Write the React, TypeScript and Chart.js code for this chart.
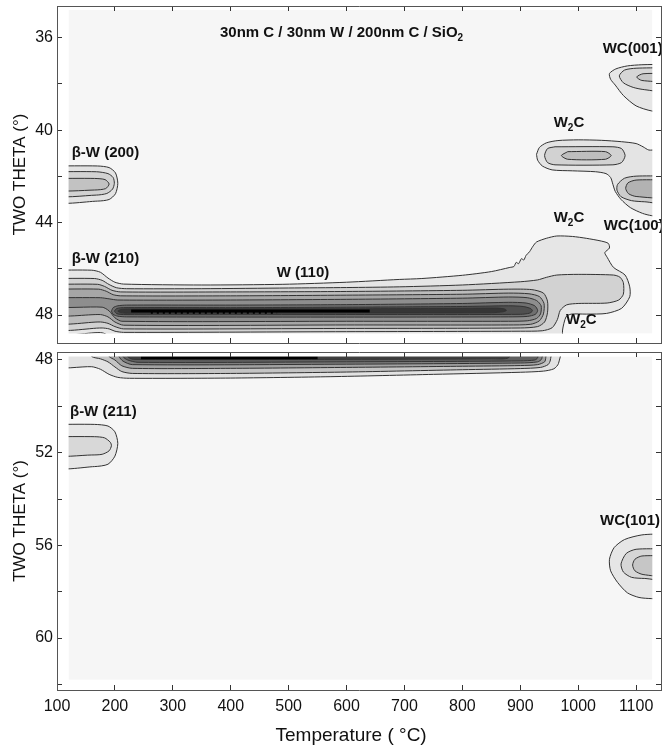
import React, { useEffect, useRef } from "react";
import { Chart, registerables } from "chart.js";

Chart.register(...registerables);

type Pt = [number, number];

// ---------- axes ----------
const X_MIN = 100;
const X_MAX = 1143;
const X_TICK_STEP = 100;
const TOP_Y_MIN = 34.628;
const TOP_Y_MAX = 49.21;
const BOT_Y_MIN = 47.655;
const BOT_Y_MAX = 62.244;
const Y_TICK_STEP = 2;
const Y_LABEL_EVERY = 4;
const X_TITLE = "Temperature ( °C)   ";
const Y_TITLE = "TWO THETA (°)";

// measured (temperature, two-theta) extent of the scans
const TOP_EXTENT = { t0: 120, t1: 1128, a0: 34.8, a1: 48.8 };
const BOT_EXTENT = { t0: 120, t1: 1128, a0: 47.85, a1: 61.8 };

// ---------- top panel contours (temperature, two-theta) ----------
const W110_L1: Pt[] = [[90,46.06],[160,46.06],[175,46.15],[188,46.4],[200,46.58],[215,46.66],[350,46.7],[490,46.67],[600,46.58],[691,46.46],[730,46.42],[800,46.28],[850,46.12],[882,45.94],[889,45.9],[893,45.72],[897,45.78],[902,45.56],[906,45.62],[910,45.42],[916,45.26],[922,45.02],[928,44.84],[945,44.68],[963,44.58],[990,44.6],[1014,44.68],[1040,44.8],[1052,44.9],[1054,45.1],[1046,45.3],[1050,45.5],[1061,45.94],[1081,46.27],[1089,46.78],[1089,47.21],[1075,47.71],[1049,47.93],[1014,47.96],[988,47.96],[979,48.08],[973,48.65],[970,49.6],[200,49.6],[193,49.2],[186,48.85],[175,48.76],[90,48.74],[90,46.06]];
const W110_L2: Pt[] = [[90,46.42],[165,46.42],[178,46.5],[190,46.68],[203,46.82],[220,46.86],[350,46.86],[500,46.83],[600,46.81],[691,46.78],[800,46.7],[900,46.56],[930,46.48],[945,46.37],[963,46.27],[1000,46.24],[1061,46.27],[1072,46.36],[1078,46.6],[1078,47.1],[1070,47.35],[1050,47.48],[1000,47.5],[980,47.56],[969,47.8],[964,48.2],[955,48.55],[938,48.68],[900,48.7],[600,48.72],[215,48.75],[200,48.7],[190,48.6],[178,48.56],[90,48.55],[90,46.42]];
const W110_L3: Pt[] = [[90,46.67],[170,46.67],[182,46.76],[195,46.93],[210,47.0],[400,47.0],[600,46.98],[800,46.93],[880,46.88],[920,46.9],[940,47.05],[947,47.4],[947,47.9],[942,48.3],[930,48.5],[900,48.56],[600,48.58],[215,48.6],[200,48.5],[188,48.36],[175,48.3],[90,48.3],[90,46.67]];
const W110_L4: Pt[] = [[90,46.88],[172,46.88],[185,46.97],[197,47.12],[210,47.17],[400,47.17],[600,47.14],[800,47.1],[880,47.05],[915,47.08],[933,47.2],[941,47.5],[940,47.95],[933,48.25],[918,48.4],[880,48.43],[600,48.43],[215,48.44],[200,48.3],[188,48.08],[175,47.98],[90,47.97],[90,46.88]];
const W110_L5: Pt[] = [[90,47.25],[175,47.25],[190,47.3],[205,47.35],[400,47.35],[600,47.32],[800,47.27],[880,47.22],[912,47.25],[928,47.37],[936,47.6],[935,47.95],[928,48.15],[912,48.25],[880,48.27],[600,48.27],[212,48.27],[200,48.12],[190,47.82],[178,47.66],[90,47.64],[90,47.25]];
const W110_L6: Pt[] = [[194,47.83],[197,47.68],[205,47.6],[220,47.57],[400,47.57],[600,47.55],[800,47.5],[880,47.45],[910,47.48],[925,47.6],[930,47.8],[926,47.97],[912,48.06],[880,48.08],[600,48.09],[220,48.08],[205,48.05],[197,47.97],[194,47.83]];
const W110_L7: Pt[] = [[199,47.83],[203,47.72],[215,47.68],[400,47.68],[600,47.66],[800,47.63],[880,47.6],[905,47.63],[918,47.72],[921,47.82],[916,47.92],[900,47.97],[600,47.98],[215,47.98],[203,47.94],[199,47.83]];
const W110_L8: Pt[] = [[205,47.83],[210,47.76],[222,47.74],[600,47.73],[800,47.71],[860,47.7],[873,47.74],[876,47.8],[870,47.86],[850,47.9],[600,47.91],[222,47.92],[210,47.9],[205,47.83]];
const TOP_RIDGE: Pt[] = [[228,47.83],[640,47.83]];
const TOP_RIDGE_DOTS: Pt[] = [[262,47.9],[480,47.9]];

const BW200_L1: Pt[] = [[90,41.55],[170,41.55],[190,41.62],[201,41.85],[205,42.3],[201,42.75],[190,43.0],[170,43.07],[90,43.07],[90,41.55]];
const BW200_L2: Pt[] = [[90,41.8],[168,41.8],[188,41.88],[197,42.05],[199,42.3],[196,42.55],[186,42.74],[168,42.81],[90,42.81],[90,41.8]];
const BW200_L3: Pt[] = [[90,42.09],[165,42.09],[183,42.14],[190,42.33],[184,42.53],[165,42.59],[90,42.59],[90,42.09]];

const WC001_L1: Pt[] = [[1150,37.15],[1110,37.17],[1085,37.22],[1065,37.35],[1054,37.55],[1056,37.8],[1064,38.05],[1078,38.5],[1100,38.95],[1127,39.17],[1150,39.2],[1150,37.15]];
const WC001_L2: Pt[] = [[1150,37.3],[1100,37.32],[1080,37.4],[1071,37.65],[1078,37.95],[1095,38.15],[1115,38.25],[1150,38.28],[1150,37.3]];
const WC001_L3: Pt[] = [[1150,37.55],[1112,37.56],[1101,37.7],[1110,37.85],[1150,37.87],[1150,37.55]];

const W2C_WC100_L1: Pt[] = [[928,41.05],[933,40.75],[945,40.55],[965,40.45],[1000,40.42],[1040,40.44],[1075,40.5],[1100,40.58],[1112,40.72],[1122,40.86],[1150,40.9],[1150,43.72],[1127,43.7],[1111,43.6],[1090,43.35],[1074,43.0],[1064,42.65],[1060,42.35],[1056,42.05],[1048,41.88],[1030,41.8],[990,41.76],[955,41.72],[938,41.55],[930,41.3],[928,41.05]];
const W2C_L2: Pt[] = [[960,40.72],[1060,40.72],[1075,40.8],[1081,41.1],[1075,41.4],[1060,41.5],[960,41.5],[947,41.4],[942,41.1],[947,40.8],[960,40.72]];
const W2C_L3: Pt[] = [[982,40.93],[1047,40.93],[1057,41.1],[1047,41.26],[982,41.26],[971,41.1],[982,40.93]];
const WC100_L2: Pt[] = [[1150,41.98],[1100,41.99],[1080,42.08],[1068,42.35],[1067,42.6],[1074,42.88],[1092,43.05],[1115,43.1],[1150,43.12],[1150,41.98]];
const WC100_L3: Pt[] = [[1150,42.15],[1100,42.16],[1086,42.28],[1082,42.52],[1087,42.75],[1100,42.87],[1150,42.88],[1150,42.15]];

// ---------- bottom panel contours ----------
const B_W110_L1: Pt[] = [[90,47.4],[90,48.29],[160,48.29],[175,48.4],[190,48.62],[205,48.75],[225,48.79],[400,48.78],[573,48.72],[750,48.62],[900,48.53],[940,48.48],[958,48.38],[966,48.15],[968,47.4],[90,47.4]];
const B_W110_L2: Pt[] = [[150,47.4],[160,47.85],[175,47.95],[188,48.08],[200,48.3],[212,48.5],[230,48.58],[400,48.58],[600,48.52],[800,48.42],[900,48.37],[935,48.32],[948,48.2],[952,48.0],[952,47.4],[150,47.4]];
const B_W110_L3: Pt[] = [[180,47.4],[190,47.85],[200,48.0],[212,48.25],[230,48.36],[400,48.36],[600,48.32],[800,48.27],[900,48.24],[930,48.2],[942,48.08],[944,47.9],[944,47.4],[180,47.4]];
const B_W110_L4: Pt[] = [[200,47.4],[207,47.85],[214,48.05],[230,48.2],[600,48.18],[900,48.13],[930,48.08],[937,47.95],[937,47.4],[200,47.4]];
const B_W110_L5: Pt[] = [[212,47.4],[214,47.85],[222,48.0],[240,48.1],[600,48.08],[900,48.04],[925,48.0],[930,47.9],[930,47.4],[212,47.4]];
const B_W110_L6: Pt[] = [[220,47.4],[222,47.85],[232,47.97],[600,47.97],[850,47.95],[880,47.9],[882,47.4],[220,47.4]];
const BOT_RIDGE: Pt[] = [[245,47.9],[550,47.9]];

const BW211_L1: Pt[] = [[90,50.78],[165,50.78],[188,50.85],[200,51.1],[205,51.6],[200,52.15],[188,52.5],[165,52.6],[90,52.6],[90,50.78]];
const BW211_L2: Pt[] = [[90,51.31],[165,51.31],[182,51.36],[192,51.55],[194,51.7],[190,51.92],[178,52.07],[160,52.1],[90,52.1],[90,51.31]];

const WC101_L1: Pt[] = [[1150,55.5],[1110,55.55],[1080,55.75],[1062,56.1],[1054,56.6],[1056,57.1],[1068,57.6],[1085,58.05],[1105,58.25],[1127,58.3],[1150,58.3],[1150,55.5]];
const WC101_L2: Pt[] = [[1150,56.15],[1100,56.17],[1083,56.35],[1074,56.8],[1078,57.15],[1092,57.38],[1115,57.43],[1150,57.44],[1150,56.15]];
const WC101_L3: Pt[] = [[1150,56.45],[1110,56.46],[1098,56.6],[1094,56.85],[1098,57.1],[1112,57.26],[1150,57.28],[1150,56.45]];

// ---------- annotations (text, temperature, two-theta) ----------
type Seg = { t: string; sub?: boolean };
type Label = { segs: Seg[]; T: number; a: number };
const TOP_LABELS: Label[] = [
  { segs: [{ t: "30nm C / 30nm W / 200nm C / SiO" }, { t: "2", sub: true }], T: 381.5, a: 35.8 },
  { segs: [{ t: "WC(001)" }], T: 1042.3, a: 36.49 },
  { segs: [{ t: "W" }, { t: "2", sub: true }, { t: "C" }], T: 957.7, a: 39.69 },
  { segs: [{ t: "β-W (200)" }], T: 125.4, a: 40.97 },
  { segs: [{ t: "W" }, { t: "2", sub: true }, { t: "C" }], T: 957.7, a: 43.8 },
  { segs: [{ t: "WC(100)" }], T: 1044, a: 44.15 },
  { segs: [{ t: "β-W (210)" }], T: 125.4, a: 45.575 },
  { segs: [{ t: "W (110)" }], T: 479.4, a: 46.16 },
  { segs: [{ t: "W" }, { t: "2", sub: true }, { t: "C" }], T: 979, a: 48.215 },
];
const BOT_LABELS: Label[] = [
  { segs: [{ t: "β-W (211)" }], T: 122.4, a: 50.245 },
  { segs: [{ t: "WC(101)" }], T: 1037.7, a: 54.95 },
];

// ---------- styling ----------
const FONT = '"Liberation Sans", Arial, Helvetica, sans-serif';
const LINE = "#333333";
const BG = "#f6f6f6";

type Poly = { pts: Pt[]; fill: string };
const TOP_POLYS: Poly[] = [
  { pts: W110_L1, fill: "#e6e6e6" },
  { pts: W110_L2, fill: "#d2d2d2" },
  { pts: W110_L3, fill: "#bcbcbc" },
  { pts: W110_L4, fill: "#a6a6a6" },
  { pts: W110_L5, fill: "#8e8e8e" },
  { pts: W110_L6, fill: "#707070" },
  { pts: W110_L7, fill: "#505050" },
  { pts: W110_L8, fill: "#363636" },
  { pts: BW200_L1, fill: "#e2e2e2" },
  { pts: BW200_L2, fill: "#d2d2d2" },
  { pts: BW200_L3, fill: "#c2c2c2" },
  { pts: WC001_L1, fill: "#e6e6e6" },
  { pts: WC001_L2, fill: "#d6d6d6" },
  { pts: WC001_L3, fill: "#c8c8c8" },
  { pts: W2C_WC100_L1, fill: "#e4e4e4" },
  { pts: W2C_L2, fill: "#d2d2d2" },
  { pts: W2C_L3, fill: "#bebebe" },
  { pts: WC100_L2, fill: "#cccccc" },
  { pts: WC100_L3, fill: "#b2b2b2" },
];
const BOT_POLYS: Poly[] = [
  { pts: B_W110_L1, fill: "#e2e2e2" },
  { pts: B_W110_L2, fill: "#c4c4c4" },
  { pts: B_W110_L3, fill: "#a2a2a2" },
  { pts: B_W110_L4, fill: "#808080" },
  { pts: B_W110_L5, fill: "#606060" },
  { pts: B_W110_L6, fill: "#404040" },
  { pts: BW211_L1, fill: "#e6e6e6" },
  { pts: BW211_L2, fill: "#d8d8d8" },
  { pts: WC101_L1, fill: "#e6e6e6" },
  { pts: WC101_L2, fill: "#d6d6d6" },
  { pts: WC101_L3, fill: "#c6c6c6" },
];

const toXY = (pts: Pt[]) => pts.map(([x, y]) => ({ x, y }));

function rect(t0: number, t1: number, a0: number, a1: number): Pt[] {
  return [[t0, a0], [t1, a0], [t1, a1], [t0, a1], [t0, a0]];
}

function labelPlugin(labels: Label[]) {
  return {
    id: "peakLabels",
    afterDatasetsDraw(chart: any) {
      const { ctx, scales } = chart;
      ctx.save();
      ctx.fillStyle = "#111";
      ctx.textBaseline = "middle";
      ctx.textAlign = "left";
      for (const lb of labels) {
        let px = scales.x.getPixelForValue(lb.T);
        const py = scales.y.getPixelForValue(lb.a);
        for (const s of lb.segs) {
          ctx.font = s.sub ? `bold 10px ${FONT}` : `bold 15px ${FONT}`;
          ctx.fillText(s.t, px, s.sub ? py + 5 : py);
          px += ctx.measureText(s.t).width;
        }
      }
      ctx.restore();
    },
  };
}

type PanelProps = {
  top: number;
  height: number;
  yMin: number;
  yMax: number;
  extent: { t0: number; t1: number; a0: number; a1: number };
  polys: Poly[];
  ridge: Pt[];
  ridgeDots?: Pt[];
  labels: Label[];
  bottomAxis: boolean;
};

function fixSize(dim: "width" | "height", size: number) {
  return (s: any) => {
    s[dim] = size;
    s.paddingTop = 0;
    s.paddingBottom = 0;
    s.paddingLeft = 0;
    s.paddingRight = 0;
  };
}

function Panel(p: PanelProps) {
  const ref = useRef<HTMLCanvasElement>(null);
  useEffect(() => {
    const canvas = ref.current!;
    const ds: any[] = [];
    const e = p.extent;
    const area = (pts: Pt[], color: string) => ({
      data: toXY(pts),
      showLine: true,
      fill: "shape",
      backgroundColor: color,
      borderColor: "rgba(0,0,0,0)",
      borderWidth: 0,
      pointRadius: 0,
      tension: 0,
    });
    ds.push(area(rect(e.t0, e.t1, e.a0, e.a1), BG));
    for (const poly of p.polys) {
      ds.push({
        data: toXY(poly.pts),
        showLine: true,
        fill: "shape",
        backgroundColor: poly.fill,
        borderColor: LINE,
        borderWidth: 1,
        pointRadius: 0,
        tension: 0.25,
      });
    }
    ds.push({ data: toXY(p.ridge), showLine: true, fill: false, borderColor: "#000", borderWidth: 3, pointRadius: 0 });
    if (p.ridgeDots) {
      ds.push({ data: toXY(p.ridgeDots), showLine: true, fill: false, borderColor: "#000", borderWidth: 2, borderDash: [2, 4], pointRadius: 0 });
    }
    // white margins around the scanned region
    ds.push(area(rect(80, e.t0, p.yMin - 2, p.yMax + 2), "#ffffff"));
    ds.push(area(rect(e.t1, 1160, p.yMin - 2, p.yMax + 2), "#ffffff"));
    ds.push(area(rect(80, 1160, p.yMin - 2, e.a0), "#ffffff"));
    ds.push(area(rect(80, 1160, e.a1, p.yMax + 2), "#ffffff"));
    ds.forEach((d, i) => (d.order = -i));

    const tickFont = { family: FONT, size: 16 };
    const grid = { drawOnChartArea: false, drawTicks: true, tickLength: -5, tickColor: "#333", tickWidth: 1, z: 1 };
    const border = { display: true, color: "#555", width: 1, z: 1 };

    const chart = new Chart(canvas, {
      type: "scatter",
      data: { datasets: ds },
      options: {
        animation: false,
        responsive: false,
        events: [],
        layout: { padding: { top: 6, right: 1, left: 0, bottom: 0 } },
        plugins: { legend: { display: false }, tooltip: { enabled: false } },
        elements: { point: { radius: 0 } },
        scales: {
          x: {
            type: "linear",
            position: "bottom",
            min: X_MIN,
            max: X_MAX,
            ticks: {
              display: p.bottomAxis,
              stepSize: X_TICK_STEP,
              includeBounds: false,
              padding: 12,
              font: tickFont,
              color: "#111",
              maxRotation: 0,
              autoSkip: false,
              callback: (v: any) => String(Math.round(v)),
            },
            grid,
            border,
            title: { display: p.bottomAxis, text: X_TITLE, font: { family: FONT, size: 19 }, color: "#111", padding: { top: 0, bottom: 1 } },
            afterFit: fixSize("height", p.bottomAxis ? 58 : 3),
          },
          x2: {
            type: "linear",
            position: "top",
            min: X_MIN,
            max: X_MAX,
            ticks: { display: false, stepSize: X_TICK_STEP, includeBounds: false },
            grid,
            border,
            afterFit: fixSize("height", 0),
          },
          y: {
            type: "linear",
            position: "left",
            reverse: true,
            min: p.yMin,
            max: p.yMax,
            ticks: {
              stepSize: Y_TICK_STEP,
              includeBounds: false,
              padding: 9,
              font: tickFont,
              color: "#111",
              callback: (v: any) => (Math.round(v) % Y_LABEL_EVERY === 0 ? String(Math.round(v)) : ""),
            },
            grid,
            border,
            title: { display: true, text: Y_TITLE, font: { family: FONT, size: 17 }, color: "#111", padding: { top: 10, bottom: 0 } },
            afterFit: fixSize("width", 57),
          },
          y2: {
            type: "linear",
            position: "right",
            reverse: true,
            min: p.yMin,
            max: p.yMax,
            ticks: { display: false, stepSize: Y_TICK_STEP, includeBounds: false },
            grid,
            border,
            afterFit: fixSize("width", 0),
          },
        },
      } as any,
      plugins: [labelPlugin(p.labels)],
    });
    return () => chart.destroy();
  }, []);
  return (
    <canvas
      ref={ref}
      width={662}
      height={p.height}
      style={{ position: "absolute", left: 0, top: p.top, width: 662, height: p.height }}
    />
  );
}

export default function App() {
  return (
    <div style={{ position: "absolute", left: 0, top: 0, width: 662, height: 748, background: "#fff", overflow: "hidden" }}>
      <Panel top={0} height={346} yMin={TOP_Y_MIN} yMax={TOP_Y_MAX} extent={TOP_EXTENT} polys={TOP_POLYS} ridge={TOP_RIDGE} ridgeDots={TOP_RIDGE_DOTS} labels={TOP_LABELS} bottomAxis={false} />
      <Panel top={346} height={402} yMin={BOT_Y_MIN} yMax={BOT_Y_MAX} extent={BOT_EXTENT} polys={BOT_POLYS} ridge={BOT_RIDGE} labels={BOT_LABELS} bottomAxis={true} />
    </div>
  );
}
